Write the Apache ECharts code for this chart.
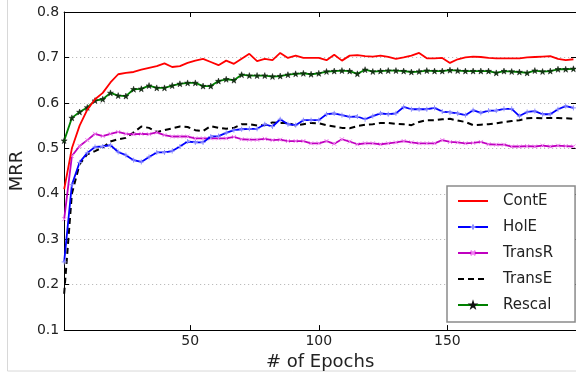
<!DOCTYPE html>
<html><head><meta charset="utf-8">
<script src="https://cdn.jsdelivr.net/npm/echarts@6/dist/echarts.min.js"></script>
<style>html,body{margin:0;padding:0;background:#fff}#c{width:576px;height:376px}</style>
</head><body><div id="c"></div>
<script>
const epochs = [1,4,7,10,13,16,19,22,25,28,31,34,37,40,43,46,49,52,55,58,61,64,67,70,73,76,79,82,85,88,91,94,97,100,103,106,109,112,115,118,121,124,127,130,133,136,139,142,145,148,151,154,157,160,163,166,169,172,175,178,181,184,187,190,193,196,199];
const contE = [0.41,0.50,0.55,0.585,0.608,0.622,0.645,0.663,0.666,0.668,0.673,0.677,0.681,0.687,0.679,0.681,0.688,0.693,0.697,0.690,0.683,0.693,0.686,0.697,0.708,0.692,0.697,0.694,0.710,0.699,0.704,0.699,0.699,0.699,0.694,0.706,0.693,0.704,0.705,0.703,0.702,0.704,0.701,0.697,0.700,0.704,0.710,0.698,0.698,0.699,0.688,0.696,0.700,0.702,0.701,0.699,0.698,0.698,0.698,0.698,0.700,0.701,0.702,0.703,0.697,0.694,0.696];
const holE = [0.25,0.42,0.469,0.49,0.503,0.504,0.507,0.492,0.485,0.474,0.470,0.481,0.491,0.491,0.494,0.504,0.515,0.513,0.513,0.526,0.527,0.534,0.540,0.542,0.543,0.543,0.553,0.548,0.564,0.553,0.551,0.562,0.562,0.562,0.575,0.577,0.573,0.569,0.570,0.564,0.571,0.577,0.575,0.577,0.591,0.586,0.586,0.586,0.589,0.581,0.579,0.577,0.573,0.584,0.578,0.583,0.583,0.587,0.587,0.571,0.580,0.582,0.575,0.575,0.586,0.593,0.589];
const transR = [0.344,0.483,0.505,0.518,0.532,0.527,0.532,0.536,0.532,0.531,0.532,0.531,0.535,0.529,0.526,0.526,0.526,0.522,0.522,0.522,0.522,0.522,0.525,0.520,0.519,0.519,0.521,0.518,0.519,0.516,0.516,0.516,0.511,0.511,0.516,0.510,0.520,0.515,0.509,0.511,0.511,0.509,0.511,0.513,0.516,0.513,0.511,0.511,0.511,0.518,0.514,0.513,0.511,0.512,0.514,0.509,0.508,0.508,0.504,0.504,0.505,0.504,0.506,0.504,0.506,0.505,0.504];
const transE = [0.18,0.40,0.465,0.487,0.494,0.502,0.515,0.520,0.523,0.535,0.548,0.545,0.536,0.540,0.544,0.548,0.547,0.540,0.538,0.549,0.545,0.543,0.545,0.553,0.553,0.550,0.551,0.557,0.556,0.556,0.550,0.553,0.556,0.555,0.551,0.548,0.545,0.544,0.549,0.552,0.553,0.556,0.556,0.554,0.553,0.551,0.558,0.562,0.562,0.564,0.565,0.561,0.558,0.551,0.552,0.553,0.555,0.558,0.560,0.562,0.566,0.567,0.566,0.567,0.567,0.566,0.565];
const rescal = [0.517,0.567,0.580,0.590,0.605,0.608,0.622,0.616,0.615,0.630,0.631,0.638,0.633,0.633,0.638,0.642,0.644,0.644,0.637,0.637,0.648,0.652,0.650,0.662,0.660,0.660,0.660,0.658,0.659,0.662,0.664,0.665,0.663,0.665,0.669,0.670,0.671,0.670,0.664,0.673,0.669,0.670,0.671,0.671,0.670,0.668,0.669,0.671,0.670,0.670,0.672,0.671,0.670,0.670,0.670,0.670,0.666,0.670,0.669,0.668,0.666,0.671,0.669,0.670,0.674,0.674,0.675];
const xTicks = [50,100,150];
const seriesNames = ['ContE','HolE','TransR','TransE','Rescal'];

const pts = v => epochs.map((e,i)=>[e,v[i]]);
const FONT = 'DejaVu Sans';
const STAR = 'path://M0,-1L0.2245,-0.309L0.951,-0.309L0.363,0.118L0.588,0.809L0,0.382L-0.588,0.809L-0.363,0.118L-0.951,-0.309L-0.2245,-0.309Z';
const PLUS = 'path://M0,-1L0,1M-1,0L1,0';
const CROSS = 'path://M-1,-1L1,1M-1,1L1,-1';

const chart = echarts.init(document.getElementById('c'), null, {renderer:'canvas'});
chart.setOption({
  animation:false,
  backgroundColor:'#fff',
  graphic:[{type:'rect', shape:{x:7.5,y:-10,width:700,height:381}, style:{fill:'none', stroke:'#d8d8d8', lineWidth:1}, z:-10}],
  grid:{left:62, top:12, width:520, height:319},
  xAxis:[{type:'value', min:1, max:200,
    axisLine:{lineStyle:{color:'#000', width:1}},
    axisTick:{inside:true, length:5, customValues:xTicks, lineStyle:{color:'#000'}},
    axisLabel:{customValues:xTicks, color:'#222', fontSize:14, fontFamily:FONT, margin:4},
    splitLine:{show:false},
    name:'# of Epochs', nameLocation:'middle', nameGap:21,
    nameTextStyle:{color:'#222', fontSize:18, fontFamily:FONT}},
   {type:'value', min:1, max:200, position:'top',
    axisLine:{lineStyle:{color:'#000', width:1}},
    axisTick:{inside:true, length:5, customValues:xTicks, lineStyle:{color:'#000'}},
    axisLabel:{show:false}, splitLine:{show:false}}],
  yAxis:[{type:'value', min:0.1, max:0.8, interval:0.1,
    axisLine:{show:true, lineStyle:{color:'#000', width:1}},
    axisTick:{show:true, inside:true, length:5, lineStyle:{color:'#000'}},
    axisLabel:{color:'#222', fontSize:14, fontFamily:FONT, margin:5, formatter:v=>v.toFixed(1)},
    splitLine:{show:true, lineStyle:{color:'#b0b0b0', type:[1,3], width:1}},
    name:'MRR', nameLocation:'middle', nameGap:26,
    nameTextStyle:{color:'#222', fontSize:18, fontFamily:FONT}},
   {type:'value', min:0.1, max:0.8, interval:0.1, position:'right',
    axisLine:{show:true, lineStyle:{color:'#000'}},
    axisTick:{show:true, inside:true, length:5, lineStyle:{color:'#000'}},
    axisLabel:{show:false}, splitLine:{show:false}}],
  legend:{orient:'vertical', left:447, top:186,
    data:[{name:'ContE', itemStyle:{opacity:0}}, {name:'HolE'}, {name:'TransR'},
          {name:'TransE', itemStyle:{opacity:0}}, {name:'Rescal'}],
    padding:[7,22,9,10], itemGap:10, itemWidth:30, itemHeight:6,
    backgroundColor:'#fff', borderColor:'#8a8a8a', borderWidth:1.5,
    textStyle:{color:'#222', fontSize:15, fontFamily:FONT, lineHeight:16, padding:[0,0,0,10]}},
  series:[
    {name:'ContE', type:'line', data:pts(contE), symbol:'none', z:5,
     lineStyle:{color:'#ff0000', width:1.8}, itemStyle:{color:'#ff0000'}},
    {name:'HolE', type:'line', data:pts(holE), symbol:PLUS, symbolSize:5, z:4,
     lineStyle:{color:'#0000ff', width:1.8},
     itemStyle:{color:'#0000ff', borderColor:'#8f8fff', borderWidth:1}},
    {name:'TransR', type:'line', data:pts(transR), symbol:CROSS, symbolSize:4, z:3,
     lineStyle:{color:'#bf00bf', width:1.8},
     itemStyle:{color:'#bf00bf', borderColor:'#f080f0', borderWidth:1}},
    {name:'TransE', type:'line', data:pts(transE), symbol:'none', z:2,
     lineStyle:{color:'#000', width:2, type:[6,4]}, itemStyle:{color:'#000'}},
    {name:'Rescal', type:'line', data:pts(rescal), symbol:STAR, symbolSize:6, z:1,
     lineStyle:{color:'#008000', width:1.8},
     itemStyle:{color:'#0d3d0d', borderColor:'#111', borderWidth:0.5}}
  ]
});
</script></body></html>
